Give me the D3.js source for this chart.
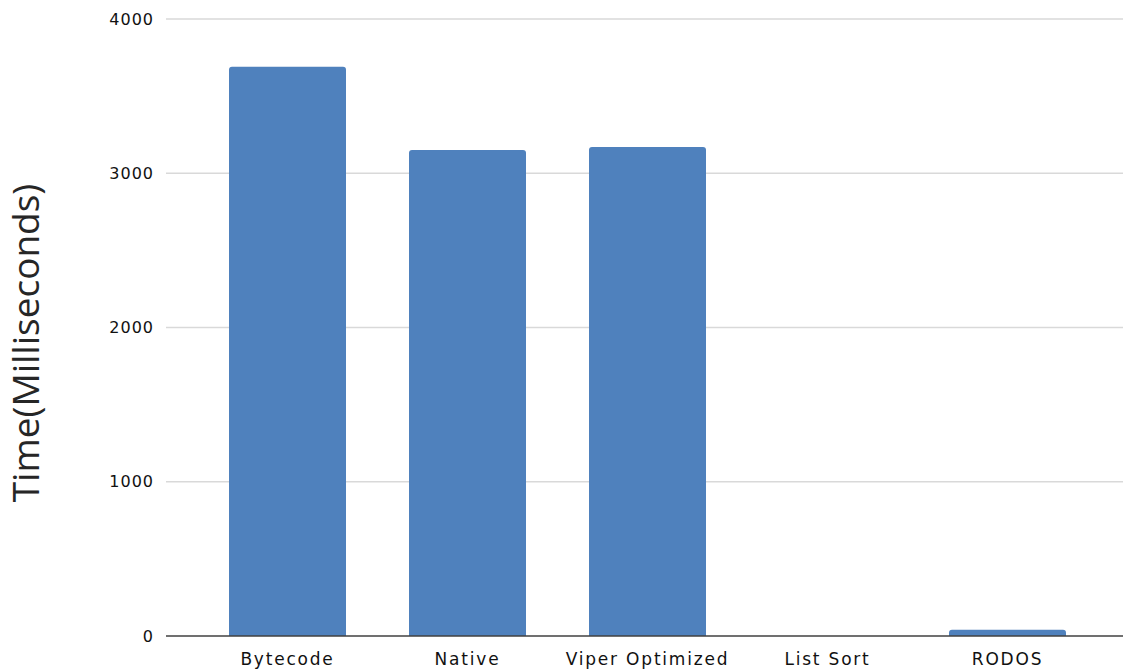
<!DOCTYPE html>
<html><head><meta charset="utf-8">
<script src="https://cdn.jsdelivr.net/npm/d3@7"></script>
<style>html,body{margin:0;padding:0;background:#fff;}svg{display:block;}</style>
</head><body>
<svg id="chart" width="1123" height="671"></svg>
<script>
const categories = ["Bytecode", "Native", "Viper Optimized", "List Sort", "RODOS"];
const values = [3690, 3150, 3170, 0, 40];
const yTicks = [0, 1000, 2000, 3000, 4000];
const yTitle = "Time(Milliseconds)";

(function () {
const svg = d3.select("#chart");
const mLeft = 166, mRight = 1123, mTop = 19, mBottom = 636;

const x = d3.scaleBand().domain(categories).range([197.5, 1097.5]).paddingInner(0.35).paddingOuter(0.175);
const y = d3.scaleLinear().domain([0, 4000]).range([mBottom, mTop]);

// gridlines
svg.append("g").selectAll("line").data(yTicks.filter(d => d > 0)).join("line")
  .attr("x1", mLeft).attr("x2", mRight)
  .attr("y1", d => y(d)).attr("y2", d => y(d))
  .attr("stroke", "#d9d9d9").attr("stroke-width", 1.5);

// bars with slightly rounded top corners
const r = 3;
svg.append("g").selectAll("path").data(categories.map((c, i) => ({c, v: values[i]}))).join("path")
  .attr("fill", "#4f81bd")
  .attr("d", d => {
    const x0 = x(d.c), w = x.bandwidth(), y0 = y(d.v), y1 = y(0);
    const h = y1 - y0;
    if (h <= 0) return "";
    const rr = Math.min(r, h);
    return `M${x0},${y1}V${y0 + rr}Q${x0},${y0} ${x0 + rr},${y0}H${x0 + w - rr}Q${x0 + w},${y0} ${x0 + w},${y0 + rr}V${y1}Z`;
  });

// zero axis line
svg.append("line").attr("x1", mLeft).attr("x2", mRight).attr("y1", y(0)).attr("y2", y(0))
  .attr("stroke", "#404040").attr("stroke-width", 1.5);

// y axis labels
const yAxis = d3.axisLeft(y).tickValues(yTicks).tickSize(0).tickPadding(0).tickFormat(d3.format("d"));
const gy = svg.append("g").attr("transform", `translate(154,0)`).call(yAxis);
gy.select(".domain").remove();
gy.selectAll("text").attr("font-family", "DejaVu Sans").attr("font-size", 16).attr("fill", "#111")
  .attr("letter-spacing", "1px");

// x axis labels
const xAxis = d3.axisBottom(x).tickSize(0).tickPadding(0);
const gx = svg.append("g").attr("transform", `translate(0,${mBottom + 17})`).call(xAxis);
gx.select(".domain").remove();
gx.selectAll("text").attr("font-family", "DejaVu Sans").attr("font-size", 17).attr("fill", "#111")
  .attr("letter-spacing", "1.8px");

// y title
svg.append("text").attr("transform", `translate(38.5,343) rotate(-90)`)
  .attr("text-anchor", "middle").attr("font-family", "Open Sans").attr("font-size", 37)
  .attr("fill", "#262626").text(yTitle);
})();
</script>
</body></html>
